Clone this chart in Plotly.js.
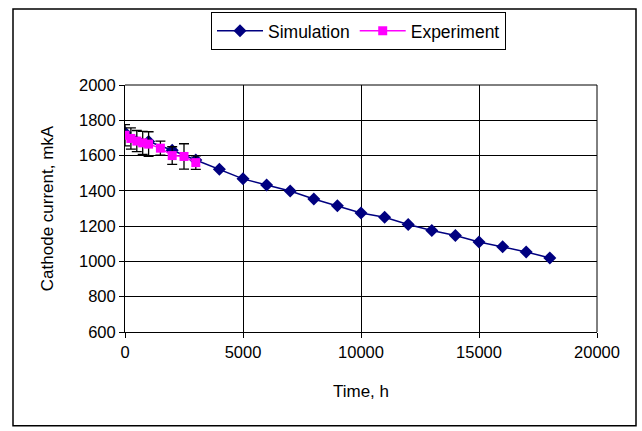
<!DOCTYPE html>
<html>
<head>
<meta charset="utf-8">
<script src="https://cdn.plot.ly/plotly-3.0.1.min.js"></script>
<style>html,body{margin:0;padding:0;background:#fff;}#chart{width:642px;height:431px;}</style>
</head>
<body>
<div id="chart"></div>
<script>
// Simulation series
const simTime = [0, 1000, 2000, 3000, 4000, 5000, 6000, 7000, 8000, 9000, 10000, 11000, 12000, 13000, 14000, 15000, 16000, 17000, 18000];
const simCurrent = [1730, 1680, 1630, 1575, 1522, 1468, 1433, 1399, 1354, 1315, 1274, 1250, 1209, 1175, 1147, 1110, 1083, 1054, 1020];

// Experiment series
const expTime = [0, 250, 500, 750, 1000, 1500, 2000, 2500, 3000];
const expCurrent = [1715, 1697, 1682, 1672, 1665, 1642, 1600, 1595, 1560];
const expError = [60, 60, 60, 65, 70, 40, 50, 72, 38];

const xTicks = [0, 5000, 10000, 15000, 20000];
const yTicks = [600, 800, 1000, 1200, 1400, 1600, 1800, 2000];

const font = {family: 'Liberation Sans, Arial, sans-serif', color: '#000'};

const traces = [
  {
    x: simTime, y: simCurrent, name: 'Simulation', type: 'scatter', mode: 'lines+markers',
    line: {color: '#000080', width: 1.5},
    marker: {symbol: 'diamond', size: 10, color: '#000080'}
  },
  {
    x: expTime, y: expCurrent, name: 'Experiment', type: 'scatter', mode: 'lines+markers',
    line: {color: '#FF00FF', width: 1.5},
    marker: {symbol: 'square', size: 9, color: '#FF00FF'},
    error_y: {type: 'data', array: expError, visible: true, color: '#000', thickness: 1.3, width: 5}
  }
];

const L = 125, R = 597, T = 82, B = 332;
const W = R - L, H = B - T;
const px = v => (v - L) / W;
const py = v => (B - v) / H;

const layout = {
  width: 642, height: 431,
  margin: {l: L, r: 642 - R, t: T, b: 431 - B, pad: 0},
  paper_bgcolor: '#fff', plot_bgcolor: '#fff',
  font: Object.assign({size: 16}, font),
  showlegend: true,
  legend: {
    orientation: 'h', x: px(211), y: py(8), xanchor: 'left', yanchor: 'top',
    bordercolor: '#000', borderwidth: 1, bgcolor: '#fff',
    font: Object.assign({size: 17.5}, font), itemwidth: 46
  },
  xaxis: {
    range: [0, 20000], tickvals: xTicks, ticktext: xTicks.map(String),
    showgrid: true, gridcolor: '#000', gridwidth: 1,
    showline: true, linecolor: '#000', linewidth: 1,
    ticks: 'outside', ticklen: 5, tickcolor: '#000',
    zeroline: false, tickfont: Object.assign({size: 16.5}, font),
    title: {text: 'Time, h', font: Object.assign({size: 17}, font), standoff: 25},
    automargin: false
  },
  yaxis: {
    range: [600, 2000], tickvals: yTicks, ticktext: yTicks.map(String),
    showgrid: true, gridcolor: '#000', gridwidth: 1,
    showline: true, linecolor: '#000', linewidth: 1,
    ticks: 'outside', ticklen: 5, tickcolor: '#000',
    zeroline: false, tickfont: Object.assign({size: 16.5}, font),
    title: {text: 'Cathode current, mkA', font: Object.assign({size: 17}, font), standoff: 21},
    automargin: false
  },
  shapes: [
    {type: 'rect', xref: 'paper', yref: 'paper', x0: px(13), x1: px(636), y0: py(427), y1: py(5),
     line: {color: '#000', width: 1.5}, fillcolor: 'rgba(0,0,0,0)', layer: 'below'},
    {type: 'line', xref: 'paper', yref: 'paper', x0: 1, x1: 1, y0: 0, y1: 1, line: {color: '#000', width: 1}},
    {type: 'line', xref: 'paper', yref: 'paper', x0: 0, x1: 1, y0: 1, y1: 1, line: {color: '#000', width: 1}}
  ]
};

Plotly.newPlot('chart', traces, layout, {displayModeBar: false, staticPlot: true});
</script>
</body>
</html>
